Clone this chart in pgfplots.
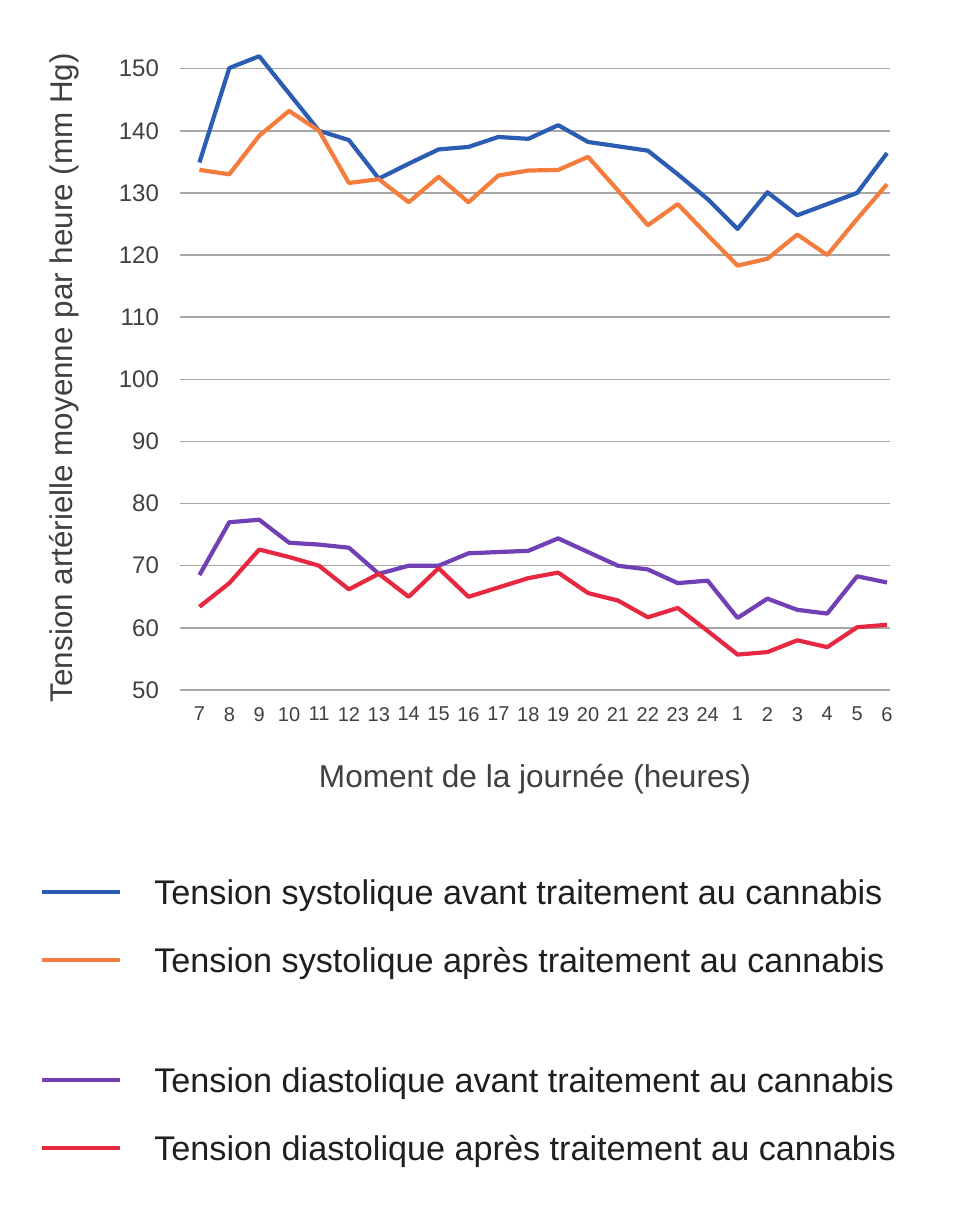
\documentclass[border=0pt]{standalone}
\usepackage{pgfplots}
\pgfplotsset{compat=1.18}
\usepackage{fontspec}
\setmainfont{Liberation Sans}

\definecolor{sysavant}{HTML}{2D5DB3}
\definecolor{sysapres}{HTML}{F47C3C}
\definecolor{diaavant}{HTML}{7140B5}
\definecolor{diaapres}{HTML}{E62840}
\definecolor{grille}{HTML}{A6A6A6}
\definecolor{texte}{HTML}{404040}

\begin{document}
\begin{tikzpicture}
\begin{axis}[
  scale only axis,
  width=355pt, height=320pt,
  xmin=-0.65, xmax=23.1,
  ymin=50, ymax=153,
  ytick={50,60,...,150},
  xtick={0,...,23},
  xticklabels={7,8,9,10,11,12,13,14,15,16,17,18,19,20,21,22,23,24,1,2,3,4,5,6},
  axis line style={draw=none},
  major tick length=0pt,
  ymajorgrids,
  grid style={grille, line width=0.75pt},
  /pgf/number format/assume math mode=true,
  yticklabel style={font=\fontsize{12}{12}\selectfont, text=texte, xshift=-7pt},
  xticklabel style={font=\fontsize{10}{10}\selectfont, text=texte, yshift=-5pt},
  ylabel={Tension artérielle moyenne par heure (mm Hg)},
  ylabel style={font=\fontsize{15.7}{15.7}\selectfont, text=texte,
    at={(axis description cs:-0.163,0.488)}, anchor=center},
  xlabel={Moment de la journée (heures)},
  xlabel style={font=\fontsize{15.8}{15.8}\selectfont, text=texte,
    at={(axis description cs:0.5,-0.14)}, anchor=center},
  every axis plot/.append style={line width=2.1pt, mark=none, line join=round},
  legend style={at={(axis description cs:-0.197,-0.297)}, anchor=north west,
    draw=none, fill=none, inner sep=0pt, outer sep=0pt,
    font=\fontsize{17.1}{17.1}\selectfont, text=black!88, row sep=22pt,
    nodes={inner sep=0pt, anchor=west, text depth=0pt, text height=12pt}},
  legend cell align=left,
  legend image code/.code={\draw[#1] (0pt,0pt) -- (39pt,0pt);},
]
\addplot[sysavant] coordinates {
 (0,134.9) (1,150.1) (2,152) (3,146) (4,140) (5,138.5) (6,132.3) (7,134.7)
 (8,137) (9,137.4) (10,139) (11,138.7) (12,140.9) (13,138.2) (14,137.5) (15,136.8)
 (16,133) (17,129) (18,124.2) (19,130.1) (20,126.4) (21,128.2) (22,130) (23,136.4)};
\addlegendentry{\hspace*{16pt}Tension systolique avant traitement au cannabis}
\addplot[sysapres] coordinates {
 (0,133.7) (1,133) (2,139.2) (3,143.2) (4,140) (5,131.6) (6,132.2) (7,128.5)
 (8,132.6) (9,128.5) (10,132.8) (11,133.6) (12,133.7) (13,135.8) (14,130.4) (15,124.8)
 (16,128.2) (17,123.2) (18,118.3) (19,119.4) (20,123.3) (21,120) (22,125.8) (23,131.4)};
\addlegendentry{\hspace*{16pt}Tension systolique après traitement au cannabis}
\addlegendimage{empty legend}
\addlegendentry[text height=4pt]{}
\addplot[diaavant] coordinates {
 (0,68.5) (1,77) (2,77.4) (3,73.7) (4,73.4) (5,72.9) (6,68.7) (7,70)
 (8,70) (9,72) (10,72.2) (11,72.4) (12,74.4) (13,72.2) (14,70) (15,69.4)
 (16,67.2) (17,67.6) (18,61.6) (19,64.7) (20,62.9) (21,62.3) (22,68.3) (23,67.3)};
\addlegendentry{\hspace*{16pt}Tension diastolique avant traitement au cannabis}
\addplot[diaapres] coordinates {
 (0,63.4) (1,67.2) (2,72.6) (3,71.4) (4,70) (5,66.2) (6,68.7) (7,65)
 (8,69.6) (9,65) (10,66.5) (11,68) (12,68.9) (13,65.6) (14,64.4) (15,61.7)
 (16,63.2) (17,59.5) (18,55.7) (19,56.1) (20,58) (21,56.9) (22,60.1) (23,60.5)};
\addlegendentry{\hspace*{16pt}Tension diastolique après traitement au cannabis}
\end{axis}
\useasboundingbox (current axis.south west) ++(-90pt,-261.5pt) rectangle ++(480.5pt,606.5pt);
\end{tikzpicture}
\end{document}
